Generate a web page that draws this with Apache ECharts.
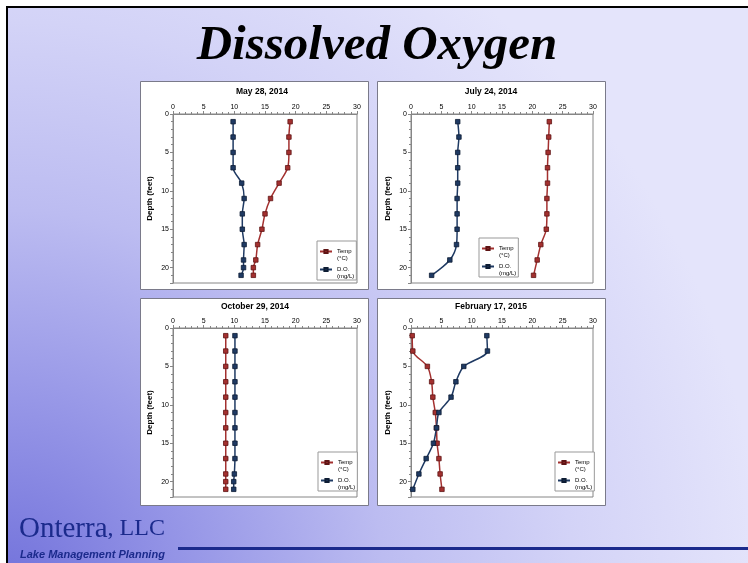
<!DOCTYPE html>
<html><head><meta charset="utf-8">
<script src="https://cdn.jsdelivr.net/npm/echarts@6/dist/echarts.min.js"></script>
<style>html,body{margin:0;padding:0;background:#fff}#c{width:748px;height:563px}</style>
</head><body><div id="c"></div>
<script>
// ---- data ----
const mainTitle = 'Dissolved Oxygen';
const panelTitles = ['May 28, 2014', 'July 24, 2014', 'October 29, 2014', 'February 17, 2015'];
const seriesNames = ['Temp\n(°C)', 'D.O.\n(mg/L)'];
const xMin = 0, xMax = 30, xStep = 5;
const yMin = 0, yMax = 22, yStep = 5;

const depthMay = [1, 3, 5, 7, 9, 11, 13, 15, 17, 19, 20, 21];
const tempMay  = [19.1, 18.9, 18.9, 18.7, 17.3, 15.9, 15.0, 14.5, 13.8, 13.5, 13.1, 13.1];
const doMay    = [9.8, 9.8, 9.8, 9.8, 11.2, 11.6, 11.3, 11.3, 11.6, 11.5, 11.5, 11.1];

const depthJul = [1, 3, 5, 7, 9, 11, 13, 15, 17, 19, 21];
const tempJul  = [22.8, 22.7, 22.6, 22.5, 22.5, 22.4, 22.4, 22.3, 21.4, 20.8, 20.2];
const doJul    = [7.7, 7.9, 7.7, 7.7, 7.7, 7.6, 7.6, 7.6, 7.5, 6.4, 3.4];

const depthOct = [1, 3, 5, 7, 9, 11, 13, 15, 17, 19, 20, 21];
const tempOct  = [8.6, 8.6, 8.6, 8.6, 8.6, 8.6, 8.6, 8.6, 8.6, 8.6, 8.6, 8.6];
const doOct    = [10.1, 10.1, 10.1, 10.1, 10.1, 10.1, 10.1, 10.1, 10.1, 10.0, 9.9, 9.9];

const depthFeb = [1, 3, 5, 7, 9, 11, 13, 15, 17, 19, 21];
const tempFeb  = [0.2, 0.3, 2.7, 3.4, 3.6, 4.0, 4.2, 4.3, 4.6, 4.8, 5.1];
const doFeb    = [12.5, 12.6, 8.7, 7.4, 6.6, 4.6, 4.2, 3.7, 2.5, 1.3, 0.3];

// ---- layout ----
const panels = [
  {box: [140, 81, 228, 208], grid: [173, 114, 184, 169], title: [262, 92], legend: [317, 241], depth: depthMay, temp: tempMay, dox: doMay},
  {box: [377, 81, 228, 208], grid: [411, 114, 182, 169], title: [491, 92], legend: [479, 238], depth: depthJul, temp: tempJul, dox: doJul},
  {box: [140, 298, 228, 207], grid: [173, 328, 184, 169], title: [255, 307], legend: [318, 452], depth: depthOct, temp: tempOct, dox: doOct},
  {box: [377, 298, 228, 207], grid: [411, 328, 182, 169], title: [491, 307], legend: [555, 452], depth: depthFeb, temp: tempFeb, dox: doFeb}
];
const FONT = 'Liberation Sans, Arial, sans-serif';
const RED = '#a3302f', RED_D = '#5e1414';
const BLUE = '#1f3a63', BLUE_D = '#0d1c33';
const AX = '#868686';
const NAVY = '#1b2a8c';

const grids = [], xAxes = [], yAxes = [], series = [], legends = [];
const graphics = [
  {type: 'rect', z: -100, shape: {x: 7, y: 7, width: 760, height: 580},
   style: {fill: {type: 'radial', x: 0, y: 1, r: 1.3, colorStops: [
     {offset: 0, color: '#7272db'}, {offset: 0.25, color: '#9797e7'},
     {offset: 0.5, color: '#bcbcf1'}, {offset: 0.75, color: '#d3d3f7'}, {offset: 1, color: '#e4e4fb'}]}}},
  {type: 'polyline', z: -90, shape: {points: [[7, 600], [7, 7], [800, 7]]}, style: {stroke: '#000', lineWidth: 2, fill: null}},
  {type: 'text', z: 50, style: {text: mainTitle, x: 377, y: 46, align: 'center', verticalAlign: 'middle',
    font: 'italic bold 49px "Liberation Serif", serif', fill: '#000'}},
  {type: 'text', z: 50, style: {text: '{a|Onterra}{b|, LLC}', x: 19, y: 529, verticalAlign: 'middle',
    rich: {a: {font: '29px "Liberation Serif", serif', fill: NAVY}, b: {font: '24px "Liberation Serif", serif', fill: NAVY}}}},
  {type: 'text', z: 50, style: {text: 'Lake Management Planning', x: 20, y: 555, verticalAlign: 'middle',
    font: 'italic bold 11px "Liberation Sans", sans-serif', fill: NAVY}},
  {type: 'rect', z: 50, shape: {x: 178, y: 547, width: 570, height: 3}, style: {fill: NAVY}}
];

panels.forEach((p, i) => {
  graphics.push({type: 'rect', z: -50, shape: {x: p.box[0] + 0.5, y: p.box[1] + 0.5, width: p.box[2], height: p.box[3]},
    style: {fill: '#fff', stroke: '#7a7a8a', lineWidth: 1}});
  graphics.push({type: 'text', z: 50, style: {text: panelTitles[i], x: p.title[0], y: p.title[1], align: 'center', verticalAlign: 'middle',
    font: 'bold 8.5px "Liberation Sans", Arial, sans-serif', fill: '#000'}});
  grids.push({left: p.grid[0], top: p.grid[1], width: p.grid[2], height: p.grid[3], show: true,
    borderColor: AX, borderWidth: 1, backgroundColor: 'transparent'});
  xAxes.push({type: 'value', gridIndex: i, position: 'top', min: xMin, max: xMax, interval: xStep,
    axisLine: {show: true, lineStyle: {color: AX, width: 1}},
    axisTick: {show: true, length: 3, lineStyle: {color: AX}},
    minorTick: {show: true, splitNumber: 5, length: 2, lineStyle: {color: AX}},
    splitLine: {show: false},
    axisLabel: {fontSize: 7, color: '#000', margin: 3, fontFamily: FONT}});
  yAxes.push({type: 'value', gridIndex: i, inverse: true, min: yMin, max: yMax, interval: yStep,
    name: 'Depth (feet)', nameLocation: 'middle', nameGap: 19,
    nameTextStyle: {fontSize: 8, fontWeight: 'bold', color: '#000', fontFamily: FONT},
    axisLine: {show: true, lineStyle: {color: AX, width: 1}},
    axisTick: {show: true, length: 3, lineStyle: {color: AX}},
    minorTick: {show: true, splitNumber: 5, length: 2, lineStyle: {color: AX}},
    splitLine: {show: false},
    axisLabel: {fontSize: 7, color: '#000', margin: 4, fontFamily: FONT, showMaxLabel: false}});
  series.push({name: seriesNames[0], type: 'line', xAxisIndex: i, yAxisIndex: i, smooth: 0.3,
    data: p.depth.map((d, k) => [p.temp[k], d]),
    symbol: 'rect', symbolSize: 4.5,
    lineStyle: {color: RED, width: 1.5},
    itemStyle: {color: RED, borderColor: RED_D, borderWidth: 0.8}});
  series.push({name: seriesNames[1], type: 'line', xAxisIndex: i, yAxisIndex: i, smooth: 0.3,
    data: p.depth.map((d, k) => [p.dox[k], d]),
    symbol: 'rect', symbolSize: 4.5,
    lineStyle: {color: BLUE, width: 1.5},
    itemStyle: {color: BLUE, borderColor: BLUE_D, borderWidth: 0.8}});
  legends.push({data: seriesNames, left: p.legend[0], top: p.legend[1], orient: 'vertical',
    formatter: n => '\n' + n,
    itemWidth: 12, itemHeight: 4, itemGap: -3, padding: [0, 2, 0, 2],
    borderColor: '#999', borderWidth: 1, backgroundColor: '#fff', selectedMode: false,
    textStyle: {fontSize: 6, lineHeight: 7, color: '#000', fontFamily: FONT}});
});

const chart = echarts.init(document.getElementById('c'), null, {renderer: 'canvas'});
chart.setOption({
  animation: false,
  grid: grids, xAxis: xAxes, yAxis: yAxes, series: series, legend: legends,
  graphic: {elements: graphics}
});
</script></body></html>
